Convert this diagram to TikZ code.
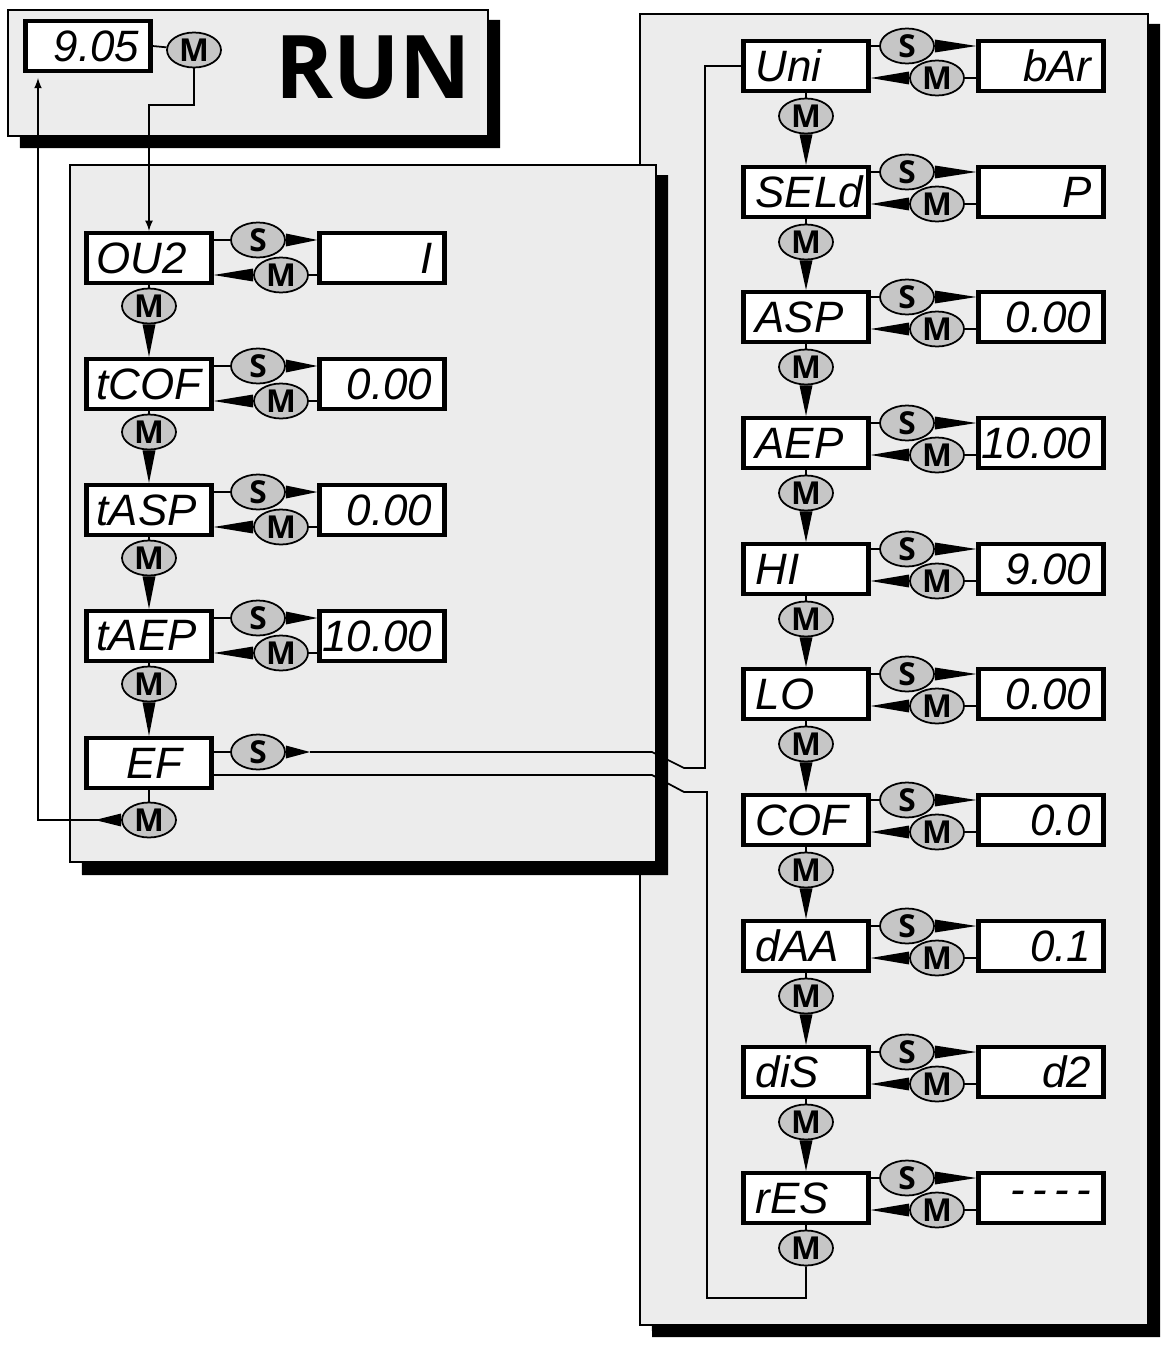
\documentclass[tikz,border=0pt]{standalone}
\usepackage{fontspec}
\newfontfamily\lcd{Liberation Sans}
\newfontfamily\lab{Open Sans}
\usetikzlibrary{calc,shapes.geometric}
\pgfdeclarelayer{bg}\pgfdeclarelayer{mid}\pgfsetlayers{bg,mid,main}
\tikzset{
 disp/.style={draw,line width=2.4pt,fill=white,minimum width=2.5cm,minimum height=1cm,inner sep=0pt},
 dl/.style={font=\lcd\itshape\fontsize{25}{25}\selectfont},
 ell/.style={draw,ellipse,line width=1pt,fill=gray!45,minimum width=1.08cm,minimum height=0.7cm,inner sep=0pt,font=\lab\bfseries\fontsize{18}{18}\selectfont},
 panel/.style={draw,line width=0.8pt,fill=gray!15},
 ln/.style={line width=1pt},
}
\newcommand\wdg[2]{\fill ($(#1)+(0,-0.13cm)$) -- (#2) -- ($(#1)+(0,0.13cm)$) -- cycle;}
\newcommand\vwdg[2]{\fill ($(#1)+(-0.13cm,0)$) -- (#2) -- ($(#1)+(0.13cm,0)$) -- cycle;}
\begin{document}
\begin{tikzpicture}[x=0.02cm,y=-0.02cm]
\useasboundingbox (0,0) rectangle (1162,1345);
\begin{pgfonlayer}{bg}
\fill (18,20) -- (500,20) -- (500,148) -- (20,148) -- cycle;
\draw[panel] (8,10) rectangle (488,136);
\fill (650,24) -- (1160,24) -- (1160,1337) -- (652,1337) -- cycle;
\draw[panel] (640,14) rectangle (1148,1325);
\fill (80,175) -- (668,175) -- (668,875) -- (82,875) -- cycle;
\draw[panel] (70,165) rectangle (656,862);
\end{pgfonlayer}
% RUN
\node[disp] (run) at (88,46) {};
\node[dl,anchor=east] at (run.east) {9.05\,};
\node[ell] (rm) at (194,50) {M};
\node[font=\lab\bfseries\fontsize{50}{50}\selectfont] (runt) at (373,68) {RUN};
\begin{pgfonlayer}{mid}
\draw[ln] (run.east) -- (rm);
\end{pgfonlayer}
% left column
\foreach \n/\y/\t/\v in {a/258/OU2/I,b/384/tCOF/0.00,c/510/tASP/0.00,d/636/tAEP/10.00}{
 \node[disp] (d\n) at (149,\y) {};
 \node[dl,anchor=west] at ($(d\n.west)+(6,0)$) {\t};
 \node[disp] (v\n) at (382,\y) {};
 \node[dl,anchor=east] at ($(v\n.east)+(-8,0)$) {\v};
 \node[ell] (s\n) at (258,\y-18) {S};
 \node[ell] (m\n) at (281,\y+17) {M};
 \node[ell] (c\n) at (149,\y+48) {M};
 \begin{pgfonlayer}{mid}
 \draw[ln] (d\n.east|-s\n) -- (s\n);
 \wdg{s\n.east}{v\n.west|-s\n}
 \draw[ln] (v\n.west|-m\n) -- (m\n);
 \wdg{m\n.west}{d\n.east|-m\n}
 \draw[ln] (d\n.south) -- (c\n);
 \end{pgfonlayer}
}
\node[disp] (de) at (149,763) {};
\node[dl,anchor=west] at ($(de.west)+(36,0)$) {EF};
\node[ell] (se) at (258,752) {S};
\node[ell] (me) at (149,820) {M};
\coordinate (ret) at (38,820);
\coordinate (sEnd) at (310,752);
\coordinate (eOut) at (213,775);
\begin{pgfonlayer}{mid}
\foreach \p/\n in {a/b,b/c,c/d}{\vwdg{c\p.south}{d\n.north}}
\vwdg{cd.south}{de.north}
\draw[ln] (de.east|-se) -- (se);
\draw[ln] (de.south) -- (me);
\wdg{me.west}{95,820}
\draw[ln,-latex] (rm.south) |- (149,105) -- (da.north);
\draw[ln,-latex] (100,820) -- (ret) -- (38,78);
\wdg{se.east}{sEnd}
\end{pgfonlayer}
% right column
\foreach \n/\y/\t/\v in {a/66/Uni/bAr,b/192/SELd/P,c/317/ASP/0.00,d/443/AEP/10.00,e/569/HI/9.00,f/694/LO/0.00,g/820/COF/0.0,h/946/dAA/0.1,i/1072/diS/d2,j/1198/rES/-\,-\,-\,-}{
 \node[disp] (r\n) at (806,\y) {};
 \node[dl,anchor=west] at ($(r\n.west)+(8,0)$) {\t};
 \node[disp] (w\n) at (1041,\y) {};
 \node[dl,anchor=east] at ($(w\n.east)+(-8,0)$) {\v};
 \node[ell] (t\n) at (907,\y-20) {S};
 \node[ell] (n\n) at (937,\y+12) {M};
 \node[ell] (k\n) at (806,\y+50) {M};
 \begin{pgfonlayer}{mid}
 \draw[ln] (r\n.east|-t\n) -- (t\n);
 \wdg{t\n.east}{w\n.west|-t\n}
 \draw[ln] (w\n.west|-n\n) -- (n\n);
 \wdg{n\n.west}{r\n.east|-n\n}
 \draw[ln] (r\n.south) -- (k\n);
 \end{pgfonlayer}
}
\begin{pgfonlayer}{mid}
\foreach \p/\n in {a/b,b/c,c/d,d/e,e/f,f/g,g/h,h/i,i/j}{\vwdg{k\p.south}{r\n.north}}
\draw[ln] (sEnd) -- (652,752) -- (684,768) -- (705,768) -- (705,66) -- (ra.west);
\draw[ln] (eOut) -- (652,775) -- (684,792) -- (707,792) -- (707,1298) -- (806,1298) -- (kj.south);
\end{pgfonlayer}
\end{tikzpicture}
\end{document}
